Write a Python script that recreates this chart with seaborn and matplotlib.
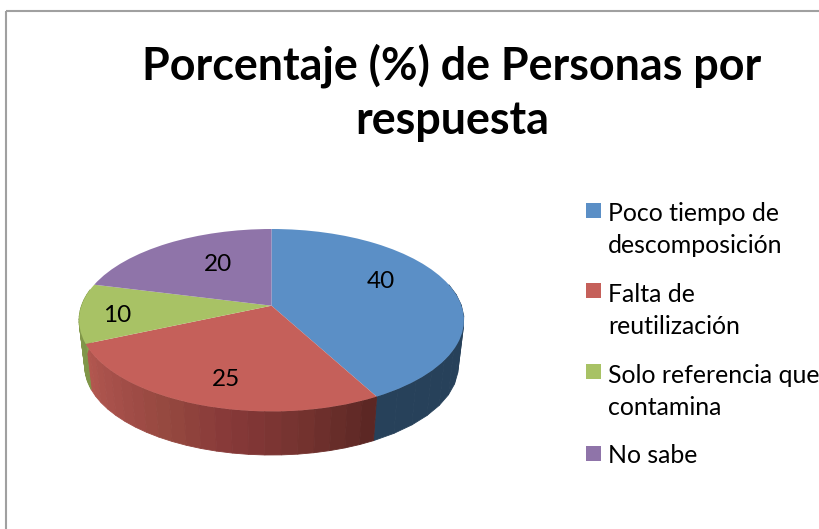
import numpy as np
import matplotlib
matplotlib.use('Agg')
import matplotlib.pyplot as plt
from matplotlib.patches import Rectangle
from matplotlib.transforms import Transform
import seaborn as sns

# datos del grafico
titulo = 'Porcentaje (%) de Personas por\nrespuesta'
respuestas = ['Poco tiempo de\ndescomposición', 'Falta de\nreutilización',
              'Solo referencia que\ncontamina', 'No sabe']
valores = [40, 25, 10, 20]
colores = ['#5B8FC6', '#C5605A', '#A8C265', '#8F74A9']
# colores del costado, de izquierda a derecha
costados = [['#27415A', '#27415A'],
            ['#B2574F', '#A44E49', '#95483F', '#863838', '#74332F', '#5C2724'],
            ['#8FA653', '#7F9548'],
            ['#5F4C75', '#5F4C75']]

sns.set_theme(style='white')
plt.rcParams['font.family'] = ['Lato', 'DejaVu Sans']


class Perspectiva(Transform):
    # lleva el circulo unidad al disco visto en perspectiva (en pixeles)
    input_dims = 2
    output_dims = 2

    def __init__(self, cx, cy, escala=1.0):
        super().__init__()
        self.cx, self.cy, self.escala = cx, cy, escala

    def transform_non_affine(self, values):
        u, v = values[:, 0], values[:, 1]
        w = 1 + 0.159 * v
        x = self.cx + self.escala * 190.0 * u / w
        y = self.cy - self.escala * 88.9 * v / w
        return np.column_stack([x, y])


fig = plt.figure(figsize=(8.2, 5.29), dpi=100)
ax = fig.add_axes([0, 0, 1, 1])

arriba = Perspectiva(271.5, 305.7)
abajo = Perspectiva(271.5, 352.5, 0.97)

wedges, _ = ax.pie(valores, colors=colores, startangle=90, counterclock=False,
                   frame=True, wedgeprops={'linewidth': 0, 'zorder': 3})
for w in wedges:
    w.set_transform(arriba + ax.transData)

ax.set_aspect('auto')
ax.set_xlim(0, 820)
ax.set_ylim(529, 0)
ax.set_xticks([])
ax.set_yticks([])
for s in ax.spines.values():
    s.set_visible(False)

# costado del disco, por tramos para que se note el degradado
for w, tonos in zip(wedges, costados):
    n = 22
    ang = np.radians(np.linspace(w.theta1, w.theta2, n + 1))
    paleta = sns.blend_palette(tonos, n)
    for i in range(n):
        t = ang[i:i + 2]
        if np.sin(t).mean() > 0.2:
            continue
        rim = np.column_stack([np.cos(t), np.sin(t)])
        a = arriba.transform(rim)
        b = abajo.transform(rim)[::-1]
        quad = np.vstack([a, b])
        ax.fill(quad[:, 0], quad[:, 1], color=paleta[i], lw=0.6, zorder=2)

# etiquetas de datos
for val, x, y in zip(valores, [381, 226, 117.5, 218.5], [281, 379, 315.5, 264.5]):
    ax.text(x, y, str(val), fontsize=17.5, color='black', ha='center', va='center', zorder=4)

# marco
ax.add_patch(Rectangle((6.5, 10.5), 830, 540, fill=False, ec='#A0A0A0', lw=1.5, zorder=1))

ax.text(452, 93, titulo, fontsize=32.3, fontweight='bold', color='black',
        ha='center', va='center', linespacing=1.35)

# leyenda
ley = ax.legend(wedges, respuestas, frameon=False, loc='upper left',
                bbox_to_anchor=(586 / 820, 1 - 202 / 529), bbox_transform=fig.transFigure,
                fontsize=17.9, handlelength=0.6, handleheight=0.6, handletextpad=0.28,
                labelspacing=1.04, borderaxespad=0, borderpad=0)
for t in ley.get_texts():
    t.set_color('black')
    t.set_linespacing(1.47)
for p, lab in zip(ley.get_patches(), respuestas):
    p.set_height(10.8)
    p.set_width(10.8)
    p.set_y(p.get_y() + (14.8 if '\n' in lab else 1.2))

fig.savefig('out.png', dpi=100)
